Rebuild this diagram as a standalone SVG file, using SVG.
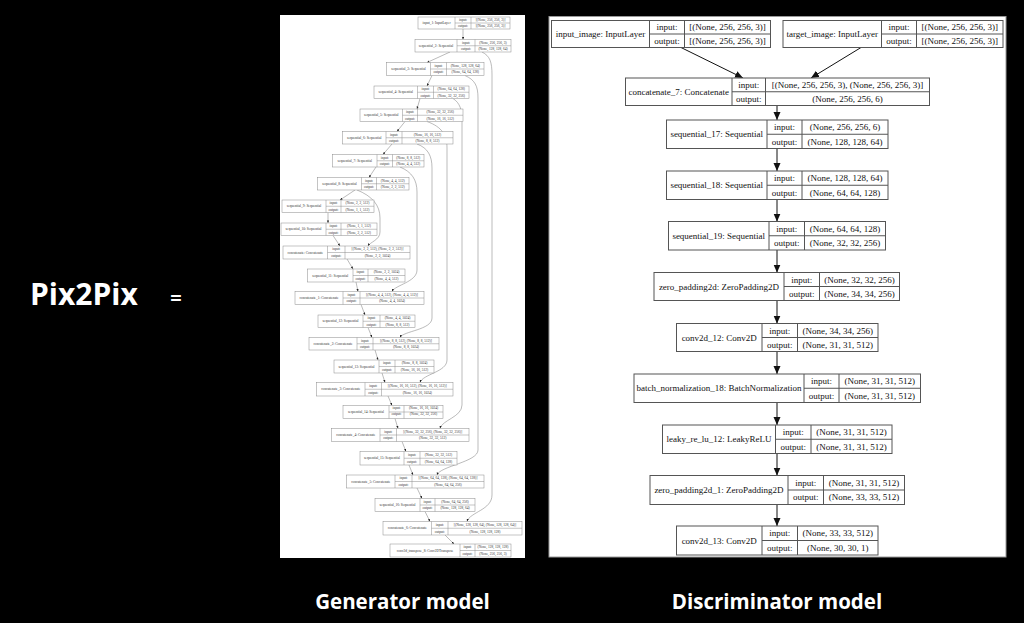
<svg xmlns="http://www.w3.org/2000/svg" width="1024" height="623" viewBox="0 0 1024 623">
<style>
.gb rect{fill:#fff;stroke:#8a8a8a;stroke-width:0.5}
.gb path{fill:none;stroke:#8a8a8a;stroke-width:0.5}
.gb text{font-family:"Liberation Serif",serif;font-size:3.5px;fill:#333;text-anchor:middle}
.db rect{fill:#fff;stroke:#555;stroke-width:1}
.db path{fill:none;stroke:#555;stroke-width:1}
.db text{font-family:"Liberation Serif",serif;font-size:9px;fill:#111;text-anchor:middle}
.gc path{fill:none;stroke:#777;stroke-width:0.5}
.dc path{fill:none;stroke:#111;stroke-width:1}
.title{font-family:"Open Sans","Noto Sans",sans-serif;font-weight:bold;fill:#fff}
</style>
<defs>
<marker id="ga" markerUnits="userSpaceOnUse" markerWidth="3" markerHeight="3" refX="2.6" refY="1.1" orient="auto"><path d="M0,0L2.6,1.1L0,2.2z" fill="#222"/></marker>
<marker id="da" markerUnits="userSpaceOnUse" markerWidth="9" markerHeight="8" refX="8" refY="3.5" orient="auto"><path d="M0,0L8,3.5L0,7z" fill="#111"/></marker>
</defs>
<rect width="1024" height="623" fill="#000"/>
<text class="title" x="30" y="305" font-size="30">Pix2Pix</text>
<text class="title" x="176" y="305" font-size="20" text-anchor="middle">=</text>
<text class="title" x="402.5" y="609" font-size="20.5" text-anchor="middle">Generator model</text>
<text class="title" x="777" y="609" font-size="20.5" text-anchor="middle">Discriminator model</text>

<!-- Generator panel -->
<rect x="280" y="15" width="245" height="543" fill="#fff"/>
<g class="gc">
<path marker-end="url(#ga)" d="M463,29L463,39.5"/>
<path marker-end="url(#ga)" d="M450,52L427,62.5"/>
<path marker-end="url(#ga)" d="M432,75.5L427,86"/>
<path marker-end="url(#ga)" d="M420,98.5L417,109"/>
<path marker-end="url(#ga)" d="M405,121.5L397,131.5"/>
<path marker-end="url(#ga)" d="M392,144L383,154.5"/>
<path marker-end="url(#ga)" d="M376,167L369,177.5"/>
<path marker-end="url(#ga)" d="M355,190L340,200"/>
<path marker-end="url(#ga)" d="M328,212.5L328,223"/>
<path marker-end="url(#ga)" d="M333,235.5L340,246"/>
<path marker-end="url(#ga)" d="M347,259L353,269"/>
<path marker-end="url(#ga)" d="M356,282L358,291.5"/>
<path marker-end="url(#ga)" d="M361,304.5L365,315"/>
<path marker-end="url(#ga)" d="M368,327.5L372,337.5"/>
<path marker-end="url(#ga)" d="M375,350L378,360"/>
<path marker-end="url(#ga)" d="M382,373L385,382.5"/>
<path marker-end="url(#ga)" d="M388,396L392,405.5"/>
<path marker-end="url(#ga)" d="M395,418.5L398,428.5"/>
<path marker-end="url(#ga)" d="M402,441.5L406,451.5"/>
<path marker-end="url(#ga)" d="M409,465L413,475"/>
<path marker-end="url(#ga)" d="M417,488L422,498.5"/>
<path marker-end="url(#ga)" d="M425,511.5L430,521.5"/>
<path marker-end="url(#ga)" d="M445,535L454,544"/>
<path marker-end="url(#ga)" d="M482,52C490,56 492,62 492,75L492,495C492,510 470,512 467,521.5"/>
<path marker-end="url(#ga)" d="M465,75.5C475,80 478,86 478,98L478,450C478,462 440,466 437,475"/>
<path marker-end="url(#ga)" d="M453,98.5C460,103 462,110 462,120L462,405C462,417 442,420 440,428.5"/>
<path marker-end="url(#ga)" d="M427,121.5C442,127 447,135 447,148L447,360C447,372 423,374 420,382.5"/>
<path marker-end="url(#ga)" d="M417,144C428,148 432,156 432,168L432,318C432,330 403,331 400,337.5"/>
<path marker-end="url(#ga)" d="M400,167C412,172 417,180 417,192L417,270C417,282 395,285 392,291.5"/>
<path marker-end="url(#ga)" d="M357,190C372,196 380,205 380,218L380,232C380,240 370,242 368,246"/>
</g>
<g class="gb">
<g id="g-input_1"><rect x="418" y="17" width="92" height="12"/><path d="M455,17V29M471,17V29M455,23H510"/><text x="436.5" y="24.2">input_1: InputLayer</text><text x="463" y="21.2">input:</text><text x="463" y="27.2">output:</text><text x="490.5" y="21.2">[(None, 256, 256, 3)]</text><text x="490.5" y="27.2">[(None, 256, 256, 3)]</text></g>
<g id="g-seq2"><rect x="415" y="39.5" width="96" height="12.5"/><path d="M457,39.5V52M475,39.5V52M457,45.75H511"/><text x="436" y="46.95">sequential_2: Sequential</text><text x="466" y="43.8">input:</text><text x="466" y="50.1">output:</text><text x="493" y="43.8">(None, 256, 256, 3)</text><text x="493" y="50.1">(None, 128, 128, 64)</text></g>
<g id="g-seq3"><rect x="386.5" y="62.5" width="97.5" height="13"/><path d="M430.5,62.5V75.5M446.5,62.5V75.5M430.5,69H484"/><text x="408.5" y="70.2">sequential_3: Sequential</text><text x="438.5" y="66.95">input:</text><text x="438.5" y="73.45">output:</text><text x="465.25" y="66.95">(None, 128, 128, 64)</text><text x="465.25" y="73.45">(None, 64, 64, 128)</text></g>
<g id="g-seq4"><rect x="374" y="86" width="95" height="12.5"/><path d="M417.5,86V98.5M433.5,86V98.5M417.5,92.25H469"/><text x="395.75" y="93.45">sequential_4: Sequential</text><text x="425.5" y="90.3">input:</text><text x="425.5" y="96.6">output:</text><text x="451.25" y="90.3">(None, 64, 64, 128)</text><text x="451.25" y="96.6">(None, 32, 32, 256)</text></g>
<g id="g-seq5"><rect x="360" y="109" width="103" height="12.5"/><path d="M402.5,109V121.5M417.5,109V121.5M402.5,115.25H463"/><text x="381.25" y="116.45">sequential_5: Sequential</text><text x="410" y="113.3">input:</text><text x="410" y="119.6">output:</text><text x="440.25" y="113.3">(None, 32, 32, 256)</text><text x="440.25" y="119.6">(None, 16, 16, 512)</text></g>
<g id="g-seq6"><rect x="342.5" y="131.5" width="110.5" height="12.5"/><path d="M386,131.5V144M402,131.5V144M386,137.75H453"/><text x="364.25" y="138.95">sequential_6: Sequential</text><text x="394" y="135.8">input:</text><text x="394" y="142.1">output:</text><text x="427.5" y="135.8">(None, 16, 16, 512)</text><text x="427.5" y="142.1">(None, 8, 8, 512)</text></g>
<g id="g-seq7"><rect x="332.5" y="154.5" width="91.5" height="12.5"/><path d="M377,154.5V167M392.5,154.5V167M377,160.75H424"/><text x="354.75" y="161.95">sequential_7: Sequential</text><text x="384.75" y="158.8">input:</text><text x="384.75" y="165.1">output:</text><text x="408.25" y="158.8">(None, 8, 8, 512)</text><text x="408.25" y="165.1">(None, 4, 4, 512)</text></g>
<g id="g-seq8"><rect x="317.5" y="177.5" width="91.5" height="12.5"/><path d="M361.5,177.5V190M376.5,177.5V190M361.5,183.75H409"/><text x="339.5" y="184.95">sequential_8: Sequential</text><text x="369" y="181.8">input:</text><text x="369" y="188.1">output:</text><text x="392.75" y="181.8">(None, 4, 4, 512)</text><text x="392.75" y="188.1">(None, 2, 2, 512)</text></g>
<g id="g-seq9"><rect x="282" y="200" width="92" height="12.5"/><path d="M326,200V212.5M341,200V212.5M326,206.25H374"/><text x="304" y="207.45">sequential_9: Sequential</text><text x="333.5" y="204.3">input:</text><text x="333.5" y="210.6">output:</text><text x="357.5" y="204.3">(None, 2, 2, 512)</text><text x="357.5" y="210.6">(None, 1, 1, 512)</text></g>
<g id="g-seq10"><rect x="281" y="223" width="96" height="12.5"/><path d="M326,223V235.5M341,223V235.5M326,229.25H377"/><text x="303.5" y="230.45">sequential_10: Sequential</text><text x="333.5" y="227.3">input:</text><text x="333.5" y="233.6">output:</text><text x="359" y="227.3">(None, 1, 1, 512)</text><text x="359" y="233.6">(None, 2, 2, 512)</text></g>
<g id="g-concat"><rect x="283" y="246" width="127" height="13"/><path d="M327.5,246V259M345,246V259M327.5,252.5H410"/><text x="305.25" y="253.7">concatenate: Concatenate</text><text x="336.25" y="250.45">input:</text><text x="336.25" y="256.95">output:</text><text x="377.5" y="250.45">[(None, 2, 2, 512), (None, 2, 2, 512)]</text><text x="377.5" y="256.95">(None, 2, 2, 1024)</text></g>
<g id="g-seq11"><rect x="307.5" y="269" width="97.5" height="13"/><path d="M353,269V282M368,269V282M353,275.5H405"/><text x="330.25" y="276.7">sequential_11: Sequential</text><text x="360.5" y="273.45">input:</text><text x="360.5" y="279.95">output:</text><text x="386.5" y="273.45">(None, 2, 2, 1024)</text><text x="386.5" y="279.95">(None, 4, 4, 512)</text></g>
<g id="g-concat1"><rect x="295" y="291.5" width="129" height="13"/><path d="M343,291.5V304.5M360,291.5V304.5M343,298H424"/><text x="319" y="299.2">concatenate_1: Concatenate</text><text x="351.5" y="295.95">input:</text><text x="351.5" y="302.45">output:</text><text x="392" y="295.95">[(None, 4, 4, 512), (None, 4, 4, 512)]</text><text x="392" y="302.45">(None, 4, 4, 1024)</text></g>
<g id="g-seq12"><rect x="318" y="315" width="97" height="12.5"/><path d="M363,315V327.5M380,315V327.5M363,321.25H415"/><text x="340.5" y="322.45">sequential_12: Sequential</text><text x="371.5" y="319.3">input:</text><text x="371.5" y="325.6">output:</text><text x="397.5" y="319.3">(None, 4, 4, 1024)</text><text x="397.5" y="325.6">(None, 8, 8, 512)</text></g>
<g id="g-concat2"><rect x="309" y="337.5" width="130" height="12.5"/><path d="M357,337.5V350M373,337.5V350M357,343.75H439"/><text x="333" y="344.95">concatenate_2: Concatenate</text><text x="365" y="341.8">input:</text><text x="365" y="348.1">output:</text><text x="406" y="341.8">[(None, 8, 8, 512), (None, 8, 8, 512)]</text><text x="406" y="348.1">(None, 8, 8, 1024)</text></g>
<g id="g-seq13"><rect x="334" y="360" width="100" height="13"/><path d="M379,360V373M395,360V373M379,366.5H434"/><text x="356.5" y="367.7">sequential_13: Sequential</text><text x="387" y="364.45">input:</text><text x="387" y="370.95">output:</text><text x="414.5" y="364.45">(None, 8, 8, 1024)</text><text x="414.5" y="370.95">(None, 16, 16, 512)</text></g>
<g id="g-concat3"><rect x="316.5" y="382.5" width="136.5" height="13.5"/><path d="M365,382.5V396M381.5,382.5V396M365,389.25H453"/><text x="340.75" y="390.45">concatenate_3: Concatenate</text><text x="373.25" y="387.1">input:</text><text x="373.25" y="393.8">output:</text><text x="417.25" y="387.1">[(None, 16, 16, 512), (None, 16, 16, 512)]</text><text x="417.25" y="393.8">(None, 16, 16, 1024)</text></g>
<g id="g-seq14"><rect x="343" y="405.5" width="100" height="13"/><path d="M389,405.5V418.5M404,405.5V418.5M389,412H443"/><text x="366" y="413.2">sequential_14: Sequential</text><text x="396.5" y="408.95">input:</text><text x="396.5" y="415.45">output:</text><text x="423.5" y="408.95">(None, 16, 16, 1024)</text><text x="423.5" y="415.45">(None, 32, 32, 256)</text></g>
<g id="g-concat4"><rect x="331.5" y="428.5" width="137.5" height="13"/><path d="M380,428.5V441.5M396.5,428.5V441.5M380,435H469"/><text x="355.75" y="436.2">concatenate_4: Concatenate</text><text x="388.25" y="432.95">input:</text><text x="388.25" y="439.45">output:</text><text x="432.75" y="432.95">[(None, 32, 32, 256), (None, 32, 32, 256)]</text><text x="432.75" y="439.45">(None, 32, 32, 512)</text></g>
<g id="g-seq15"><rect x="360" y="451.5" width="97" height="13.5"/><path d="M404,451.5V465M420,451.5V465M404,458.25H457"/><text x="382" y="459.45">sequential_15: Sequential</text><text x="412" y="456.1">input:</text><text x="412" y="462.8">output:</text><text x="438.5" y="456.1">(None, 32, 32, 512)</text><text x="438.5" y="462.8">(None, 64, 64, 128)</text></g>
<g id="g-concat5"><rect x="346.5" y="475" width="137.5" height="13"/><path d="M395,475V488M412,475V488M395,481.5H484"/><text x="370.75" y="482.7">concatenate_5: Concatenate</text><text x="403.5" y="479.45">input:</text><text x="403.5" y="485.95">output:</text><text x="448" y="479.45">[(None, 64, 64, 128), (None, 64, 64, 128)]</text><text x="448" y="485.95">(None, 64, 64, 256)</text></g>
<g id="g-seq16"><rect x="375" y="498.5" width="100" height="13"/><path d="M420,498.5V511.5M435,498.5V511.5M420,505H475"/><text x="397.5" y="506.2">sequential_16: Sequential</text><text x="427.5" y="502.95">input:</text><text x="427.5" y="509.45">output:</text><text x="455" y="502.95">(None, 64, 64, 256)</text><text x="455" y="509.45">(None, 128, 128, 64)</text></g>
<g id="g-concat6"><rect x="383" y="521.5" width="139" height="13.5"/><path d="M431.5,521.5V535M448,521.5V535M431.5,528.25H522"/><text x="407.25" y="529.45">concatenate_6: Concatenate</text><text x="439.75" y="526.1">input:</text><text x="439.75" y="532.8">output:</text><text x="485" y="526.1">[(None, 128, 128, 64), (None, 128, 128, 64)]</text><text x="485" y="532.8">(None, 128, 128, 128)</text></g>
<g id="g-conv2dT"><rect x="390" y="544" width="121" height="13"/><path d="M460,544V557M475,544V557M460,550.5H511"/><text x="425" y="551.7">conv2d_transpose_8: Conv2DTranspose</text><text x="467.5" y="548.45">input:</text><text x="467.5" y="554.95">output:</text><text x="493" y="548.45">(None, 128, 128, 128)</text><text x="493" y="554.95">(None, 256, 256, 3)</text></g>
</g>

<!-- Discriminator panel -->
<rect x="549" y="16.5" width="457" height="540.5" fill="#fff" stroke="#999" stroke-width="1"/>
<g class="dc">
<path marker-end="url(#da)" d="M681,47.5L743,78"/>
<path marker-end="url(#da)" d="M861,47.5L811,78"/>
<path marker-end="url(#da)" d="M777,105.5V120"/>
<path marker-end="url(#da)" d="M777,148.5V171"/>
<path marker-end="url(#da)" d="M777,199.5V221.5"/>
<path marker-end="url(#da)" d="M777,250V272.5"/>
<path marker-end="url(#da)" d="M777,300.5V323.5"/>
<path marker-end="url(#da)" d="M777,351.5V374"/>
<path marker-end="url(#da)" d="M777,402.5V425"/>
<path marker-end="url(#da)" d="M777,453.5V475.5"/>
<path marker-end="url(#da)" d="M777,504.5V526"/>
</g>
<g class="db">
<g id="d-input_image"><rect x="551.5" y="20.5" width="219" height="27"/><path d="M649.5,20.5V47.5M684.5,20.5V47.5M649.5,34H770.5"/><text x="600.5" y="37.2">input_image: InputLayer</text><text x="667" y="30.45">input:</text><text x="667" y="43.95">output:</text><text x="727.5" y="30.45">[(None, 256, 256, 3)]</text><text x="727.5" y="43.95">[(None, 256, 256, 3)]</text></g>
<g id="d-target_image"><rect x="783" y="20.5" width="220" height="27"/><path d="M881.5,20.5V47.5M916.5,20.5V47.5M881.5,34H1003"/><text x="832.25" y="37.2">target_image: InputLayer</text><text x="899" y="30.45">input:</text><text x="899" y="43.95">output:</text><text x="959.75" y="30.45">[(None, 256, 256, 3)]</text><text x="959.75" y="43.95">[(None, 256, 256, 3)]</text></g>
<g id="d-concatenate_7"><rect x="625.5" y="78" width="304" height="27.5"/><path d="M732,78V105.5M765.5,78V105.5M732,91.75H929.5"/><text x="678.75" y="94.95">concatenate_7: Concatenate</text><text x="748.75" y="88.1">input:</text><text x="748.75" y="101.8">output:</text><text x="847.5" y="88.1">[(None, 256, 256, 3), (None, 256, 256, 3)]</text><text x="847.5" y="101.8">(None, 256, 256, 6)</text></g>
<g id="d-sequential_17"><rect x="666.5" y="120" width="221.5" height="28.5"/><path d="M767,120V148.5M802,120V148.5M767,134.25H888"/><text x="716.75" y="137.45">sequential_17: Sequential</text><text x="784.5" y="130.3">input:</text><text x="784.5" y="144.6">output:</text><text x="845" y="130.3">(None, 256, 256, 6)</text><text x="845" y="144.6">(None, 128, 128, 64)</text></g>
<g id="d-sequential_18"><rect x="666.5" y="171" width="221.5" height="28.5"/><path d="M767,171V199.5M802,171V199.5M767,185.25H888"/><text x="716.75" y="188.45">sequential_18: Sequential</text><text x="784.5" y="181.3">input:</text><text x="784.5" y="195.6">output:</text><text x="845" y="181.3">(None, 128, 128, 64)</text><text x="845" y="195.6">(None, 64, 64, 128)</text></g>
<g id="d-sequential_19"><rect x="668.5" y="221.5" width="217" height="28.5"/><path d="M769,221.5V250M804.5,221.5V250M769,235.75H885.5"/><text x="718.75" y="238.95">sequential_19: Sequential</text><text x="786.75" y="231.8">input:</text><text x="786.75" y="246.1">output:</text><text x="845" y="231.8">(None, 64, 64, 128)</text><text x="845" y="246.1">(None, 32, 32, 256)</text></g>
<g id="d-zero_padding2d"><rect x="654" y="272.5" width="245.5" height="28"/><path d="M784,272.5V300.5M819.5,272.5V300.5M784,286.5H899.5"/><text x="719" y="289.7">zero_padding2d: ZeroPadding2D</text><text x="801.75" y="282.7">input:</text><text x="801.75" y="296.7">output:</text><text x="859.5" y="282.7">(None, 32, 32, 256)</text><text x="859.5" y="296.7">(None, 34, 34, 256)</text></g>
<g id="d-conv2d_12"><rect x="676.5" y="323.5" width="201.5" height="28"/><path d="M762,323.5V351.5M797.5,323.5V351.5M762,337.5H878"/><text x="719.25" y="340.7">conv2d_12: Conv2D</text><text x="779.75" y="333.7">input:</text><text x="779.75" y="347.7">output:</text><text x="837.75" y="333.7">(None, 34, 34, 256)</text><text x="837.75" y="347.7">(None, 31, 31, 512)</text></g>
<g id="d-batch_normalization_18"><rect x="634" y="374" width="286.5" height="28.5"/><path d="M804,374V402.5M839,374V402.5M804,388.25H920.5"/><text x="719" y="391.45">batch_normalization_18: BatchNormalization</text><text x="821.5" y="384.3">input:</text><text x="821.5" y="398.6">output:</text><text x="879.75" y="384.3">(None, 31, 31, 512)</text><text x="879.75" y="398.6">(None, 31, 31, 512)</text></g>
<g id="d-leaky_re_lu_12"><rect x="662.5" y="425" width="229.5" height="28.5"/><path d="M775.5,425V453.5M811,425V453.5M775.5,439.25H892"/><text x="719" y="442.45">leaky_re_lu_12: LeakyReLU</text><text x="793.25" y="435.3">input:</text><text x="793.25" y="449.6">output:</text><text x="851.5" y="435.3">(None, 31, 31, 512)</text><text x="851.5" y="449.6">(None, 31, 31, 512)</text></g>
<g id="d-zero_padding2d_1"><rect x="650" y="475.5" width="254.5" height="29"/><path d="M788,475.5V504.5M823.5,475.5V504.5M788,490H904.5"/><text x="719" y="493.2">zero_padding2d_1: ZeroPadding2D</text><text x="805.75" y="485.95">input:</text><text x="805.75" y="500.45">output:</text><text x="864" y="485.95">(None, 31, 31, 512)</text><text x="864" y="500.45">(None, 33, 33, 512)</text></g>
<g id="d-conv2d_13"><rect x="676.5" y="526" width="201.5" height="29"/><path d="M762,526V555M797.5,526V555M762,540.5H878"/><text x="719.25" y="543.7">conv2d_13: Conv2D</text><text x="779.75" y="536.45">input:</text><text x="779.75" y="550.95">output:</text><text x="837.75" y="536.45">(None, 33, 33, 512)</text><text x="837.75" y="550.95">(None, 30, 30, 1)</text></g>
</g>
</svg>
